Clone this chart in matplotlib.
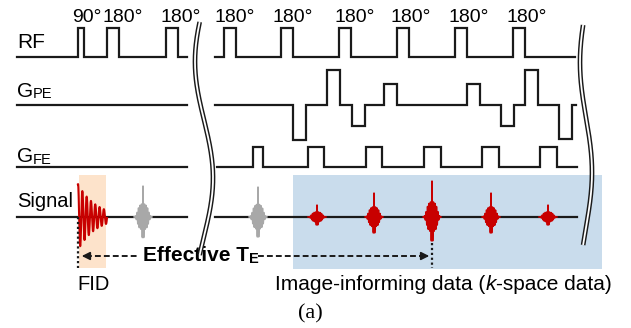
import numpy as np
import matplotlib
matplotlib.use("Agg")
import matplotlib.pyplot as plt

plt.rcParams['font.family'] = ['Liberation Sans', 'DejaVu Sans']

# pulse diagram, everything in pixel units (x right, y down)
rf_left = [78, 107, 166]
rf_left_w = [6, 12, 12]
rf_left_lab = ['90°', '180°', '180°']
rf_left_lab_x = [72, 102, 160]
rf_right = [224, 281, 339, 397, 455, 513]
rf_right_lab_x = [215, 273, 334, 391, 449, 507]
rf_w = 12

gpe_start = [293, 327, 352, 384, 467, 501, 525, 559]
gpe_amp = [-35, 35, -21, 21, 21, -21, 35, -34]
gpe_w = 13

gfe_start = [253, 308, 366, 424, 482, 540]
gfe_w = [10, 16, 16, 17, 17, 17]
gfe_amp = 20

echo_gray = [143, 258]
echo_gray_amp = [31, 30]
echo_red = [317, 374, 432, 491, 548]
echo_red_amp = [12, 24, 36, 24, 12]

y_rf, y_pe, y_fe, y_sig = 57, 105, 167, 217
rf_h = 29

fig = plt.figure(figsize=(6.31, 3.28), dpi=100)
ax = fig.add_axes([0, 0, 1, 1])
ax.set_xlim(0, 631)
ax.set_ylim(328, 0)
ax.axis('off')

lw = 1.6
blk = '#1a1a1a'
red = '#c80000'
gray = '#a8a8a8'


def trace(x0, x1, base, lobes):
    xs, ys = [x0], [base]
    for s, e, lev in lobes:
        xs += [s, s, e, e]
        ys += [base, lev, lev, base]
    xs.append(x1)
    ys.append(base)
    ax.plot(xs, ys, color=blk, lw=lw, solid_joinstyle='miter', zorder=3)


# RF
trace(17, 187, y_rf, [(s, s + w, y_rf - rf_h) for s, w in zip(rf_left, rf_left_w)])
trace(215, 575, y_rf, [(s, s + rf_w, y_rf - rf_h) for s in rf_right])
for x, lab in zip(rf_left_lab_x, rf_left_lab):
    ax.text(x, 22, lab, ha='left', va='baseline', fontsize=14)
for x in rf_right_lab_x:
    ax.text(x, 22, '180°', ha='left', va='baseline', fontsize=14)

# phase encoding
trace(17, 187, y_pe, [])
trace(215, 576, y_pe, [(s, s + gpe_w, y_pe - a) for s, a in zip(gpe_start, gpe_amp)])

# frequency encoding
trace(17, 187, y_fe, [])
trace(217, 577, y_fe, [(s, s + w, y_fe - gfe_amp) for s, w in zip(gfe_start, gfe_w)])

# shaded regions
ax.add_patch(plt.Rectangle((79, 175), 27, 93, color='#fde3cb', lw=0, zorder=0))
ax.add_patch(plt.Rectangle((293, 175), 309, 94, color='#c9dcec', lw=0, zorder=0))

# signal baseline
ax.plot([17, 187], [y_sig, y_sig], color=blk, lw=lw, zorder=2)
ax.plot([215, 577], [y_sig, y_sig], color=blk, lw=lw, zorder=2)

# FID
t = np.linspace(0, 29, 800)
fid = 33 * np.exp(-t / 18) * np.sin(2 * np.pi * (t + 1.0) / 4.3)
ax.plot(78 + t, y_sig - fid, color=red, lw=1.5, zorder=4)


def echo(xc, amp, col):
    t = np.linspace(-9, 9, 1500)
    env = 0.6 * np.exp(-(t / 0.8) ** 2) + 0.4 * np.exp(-(t / 6.0) ** 4)
    y = amp * env * np.cos(2 * np.pi * t / 1.5)
    ax.plot(xc + t, y_sig - y, color=col, lw=1.1, zorder=4)


for xc, a in zip(echo_gray, echo_gray_amp):
    echo(xc, a, gray)
for xc, a in zip(echo_red, echo_red_amp):
    echo(xc, a, red)

# effective TE markers
ax.plot([78, 78], [y_sig, 268], color=blk, lw=1.6, ls=(0, (1, 1.2)), zorder=5)
ax.plot([432, 432], [243, 268], color=blk, lw=1.6, ls=(0, (1, 1.2)), zorder=5)
ax.plot([86, 138], [256, 256], color=blk, lw=1.4, ls=(0, (3, 1.6)), zorder=5)
ax.plot([258, 424], [256, 256], color=blk, lw=1.4, ls=(0, (3, 1.6)), zorder=5)
ax.annotate('', xy=(79, 256), xytext=(89, 256),
            arrowprops=dict(arrowstyle='-|>', color=blk, lw=1.2, mutation_scale=12))
ax.annotate('', xy=(432, 256), xytext=(422, 256),
            arrowprops=dict(arrowstyle='-|>', color=blk, lw=1.2, mutation_scale=12))

fig.canvas.draw()
rend = fig.canvas.get_renderer()


def right_edge(txt):
    bb = txt.get_window_extent(rend)
    return ax.transData.inverted().transform((bb.x1, bb.y0))[0]


def sub_label(x, y, main, sub, size, subsize, weight='normal', dy=1.5):
    t1 = ax.text(x, y, main, ha='left', va='baseline', fontsize=size, fontweight=weight)
    ax.text(right_edge(t1), y + dy, sub, ha='left', va='baseline',
            fontsize=subsize, fontweight=weight)


ax.text(17, 48, 'RF', va='baseline', fontsize=15)
sub_label(17, 97, 'G', 'PE', 15, 10.5)
sub_label(17, 162, 'G', 'FE', 15, 10.5)
ax.text(17, 207, 'Signal', va='baseline', fontsize=14.5)

te = ax.text(143, 261, 'Effective T', va='baseline', fontsize=15, fontweight='bold')
ax.text(right_edge(te), 263, 'E', va='baseline', fontsize=10.5, fontweight='bold')

ax.text(77, 290, 'FID', va='baseline', fontsize=14.5)
p1 = ax.text(275, 290, 'Image-informing data (', va='baseline', fontsize=15)
p2 = ax.text(right_edge(p1), 290, 'k', va='baseline', fontsize=15, style='italic')
ax.text(right_edge(p2), 290, '-space data)', va='baseline', fontsize=15)
ax.text(298, 318, '(a)', va='baseline', fontsize=16, family='Liberation Serif')

# axis break marks
for xc, amp, y0, y1 in [(204, 9, 22, 255), (586, 6, 25, 245)]:
    yy = np.linspace(y0, y1, 200)
    u = (yy - y0) / (y1 - y0)
    xx = xc + amp * np.sin(2 * np.pi * (u - 0.42))
    ax.plot(xx, yy, color=blk, lw=3.4, zorder=6, solid_capstyle='butt')
    ax.plot(xx, yy, color='white', lw=1.3, zorder=7, solid_capstyle='butt')

fig.savefig('out.png', dpi=100)
